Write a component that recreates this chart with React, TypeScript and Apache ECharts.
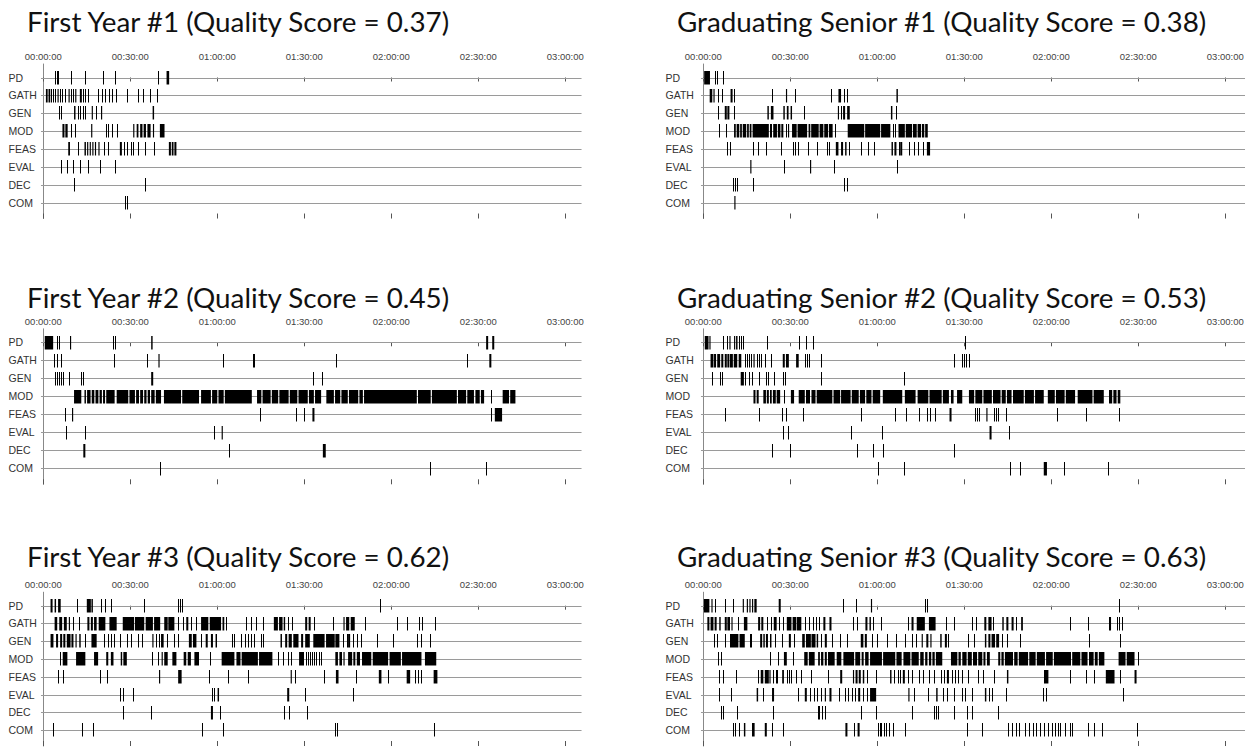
import React, { useEffect, useRef } from "react";
import * as echarts from "echarts";

// Activity codes, top to bottom
const ROWS = ["PD", "GATH", "GEN", "MOD", "FEAS", "EVAL", "DEC", "COM"];
// Time axis ticks, in minutes
const TICK_MINUTES = [0, 30, 60, 90, 120, 150, 180];

const PANEL_NAMES = [
  "First Year #1",
  "Graduating Senior #1",
  "First Year #2",
  "Graduating Senior #2",
  "First Year #3",
  "Graduating Senior #3",
];
const QUALITY_SCORES = [0.37, 0.38, 0.45, 0.53, 0.62, 0.63];

// An event is either a brief moment (minute) or an interval [start, end] in minutes.
type Ev = number | [number, number];

const FIRST_YEAR_1: Ev[][] = [
  [4.1, 4.6, 5.1, 9.6, 14.4, 20.7, 24.7, 39.5, [42.5, 43.4]],
  [[0.9, 1.5], [1.8, 2.4], [2.7, 3.0], 3.5, 4.1, [4.9, 5.3], 5.9, 6.6, 7.5, [8.7, 9.1], 9.6, 10.3, [11.0, 11.4], [12.6, 13.3], [13.7, 13.9], 14.4, 15.5, [18.7, 19.0], 20.1, 21.3, 22.6, 23.8, 25.0, [28.7, 29.0], 32.5, 34.5, 36.9, 39.3],
  [5.3, 6.1, [10.6, 11.1], 11.8, 12.7, 13.6, 14.4, [16.7, 17.1], 18.1, [19.9, 20.3], [37.7, 38.2]],
  [[6.6, 7.3], [7.6, 8.4], 9.6, [11.0, 11.3], [16.5, 16.9], 21.7, 22.3, 23.8, 25.3, [31.0, 31.4], [32.2, 32.8], [33.4, 34.2], [34.6, 35.4], [35.9, 37.0], [37.8, 38.2], [40.2, 41.8]],
  [[8.6, 9.2], 11.9, [14.2, 14.7], [15.1, 15.5], [16.0, 16.4], [16.9, 17.3], [17.8, 18.2], [19.0, 19.4], 20.8, 22.4, [26.4, 27.1], 28.0, 29.0, 30.2, 31.1, 32.7, 35.0, 38.2, [43.3, 44.0], [44.3, 44.9], [45.2, 45.9]],
  [6.2, 8.2, 10.3, 12.8, 15.5, 19.7, [24.7, 25.0]],
  [10.5, 35.0],
  [28.1, 29.0],
];

const SENIOR_1: Ev[][] = [
  [[0.3, 2.3], 4.2, 4.7, 6.8],
  [[2.2, 3.1], [3.5, 3.9], 5.2, 6.3, [9.4, 10.1], 10.6, 23.7, [28.5, 28.9], 31.5, 43.9, [46.6, 47.5], 48.5, 49.6, [66.6, 67.1]],
  [5.2, [7.4, 8.1], [8.3, 9.0], 10.7, [22.1, 22.6], [23.3, 24.2], [27.6, 28.1], [28.8, 29.4], [30.1, 30.6], 34.7, [46.4, 46.8], 47.5, [48.2, 48.9], [49.6, 50.5], [64.7, 65.2], 66.3],
  [5.4, 7.9, [10.6, 11.2], [11.5, 12.4], [12.7, 13.3], [13.6, 14.8], [15.1, 15.7], [16.0, 16.6], [17.0, 22.6], [23.0, 23.7], [24.1, 25.4], [25.7, 26.6], [26.9, 27.6], [28.5, 28.8], [29.2, 29.6], [30.6, 32.2], [32.5, 35.8], [36.3, 36.9], [37.2, 39.8], [40.1, 41.4], [41.7, 43.0], [43.3, 44.6], 45.3, [49.8, 55.5], [55.8, 61.0], [61.3, 64.5], 65.4, [66.2, 66.5], [67.3, 69.5], [69.8, 72.0], [72.3, 73.6], [73.9, 75.1], [75.4, 76.2], [76.5, 77.4]],
  [8.1, 9.3, [17.3, 17.5], 18.9, 21.6, 26.7, [31.0, 31.3], 31.7, 32.6, 36.1, 39.3, 42.5, 43.4, [45.7, 46.6], [47.5, 48.2], [48.9, 49.4], 50.1, 54.4, 56.7, 59.0, [64.9, 65.4], [65.9, 66.6], 67.5, [67.9, 68.6], 70.9, 72.7, 74.1, 75.7, [77.1, 78.2]],
  [[16.2, 16.6], 27.8, [36.8, 37.2], 45.2, 66.8],
  [10.4, 11.0, 11.5, 17.2, 48.5, 49.4],
  [[10.7, 11.1]],
];

const FIRST_YEAR_2: Ev[][] = [
  [[0.5, 3.4], 4.6, 5.3, [9.2, 9.6], 24.1, 24.6, [37.2, 37.7], [152.7, 153.4], [154.8, 155.5]],
  [3.7, 4.8, 6.0, 24.3, 35.6, [39.7, 40.1], 62.0, [72.3, 73.0], 101.0, 146.0, [153.8, 154.5]],
  [4.1, 4.8, 5.5, 6.2, 6.9, 9.0, 12.9, 13.8, [37.2, 37.9], 93.0, 96.0],
  [[10.6, 13.1], [14.2, 14.7], [15.1, 16.3], [16.7, 17.6], [18.0, 19.0], [19.4, 20.2], [20.6, 21.3], [21.7, 24.6], [25.3, 29.3], [29.7, 31.6], [32.0, 33.0], [33.4, 34.4], [34.8, 35.6], [36.0, 36.8], [37.2, 38.4], [38.8, 40.6], [41.6, 47.5], [47.9, 53.7], [54.4, 57.8], [58.2, 60.0], [60.4, 62.2], [62.6, 71.9], [73.7, 75.2], [75.6, 78.4], [78.8, 81.0], [81.4, 84.6], [85.0, 87.6], [88.0, 91.2], [91.6, 93.3], [93.7, 95.8], [97.6, 100.2], [100.6, 102.4], [102.8, 105.0], [105.4, 108.6], [109.0, 110.2], [110.6, 128.8], [129.2, 133.6], [134.0, 142.6], [143.0, 145.8], [146.2, 148.5], [149.0, 150.5], [150.9, 152.0], 154.5, [158.4, 160.6], [161.0, 162.8]],
  [7.6, [9.9, 10.3], 74.6, 87.3, 90.0, [92.8, 93.5], 154.5, [155.7, 158.2]],
  [7.8, 14.5, [58.8, 59.1], [61.5, 61.9]],
  [[13.8, 14.5], 64.1, [96.4, 97.4]],
  [40.4, 133.4, 152.5],
];

const SENIOR_2: Ev[][] = [
  [[0.5, 1.8], [2.1, 2.5], 6.7, 8.3, [9.0, 9.4], [10.6, 11.0], [11.3, 11.8], 12.2, 13.1, 13.8, 21.9, 32.9, 35.4, 37.7, 90.2],
  [[2.5, 3.5], [3.7, 4.4], [4.8, 5.8], [6.2, 6.9], [7.4, 8.1], [8.3, 9.0], [9.2, 10.2], [10.5, 11.7], [12.2, 13.1], 14.3, 15.0, 15.9, 16.6, [17.3, 17.7], 18.4, 19.1, 20.0, 21.2, 23.5, [27.4, 28.1], [28.5, 29.5], [32.0, 32.9], 35.0, 35.7, 36.4, 40.5, 86.3, 89.3, 90.0, 90.7, 91.6],
  [3.0, 5.8, 6.4, [12.9, 14.0], 14.5, 15.6, 16.8, 19.3, 21.6, 22.3, 24.4, 27.6, 28.3, 40.5, 69.3],
  [[17.3, 18.0], [18.4, 19.1], [20.7, 21.6], [21.9, 22.6], [23.0, 23.6], [24.0, 25.0], [25.3, 26.5], 27.8, [30.2, 31.3], [32.9, 35.0], [35.4, 36.8], [37.3, 38.7], [39.1, 44.5], [44.9, 47.2], [47.5, 50.8], [51.2, 53.6], [54.0, 55.8], [56.2, 58.0], [58.4, 61.0], [61.9, 68.6], [69.5, 73.2], [73.9, 77.6], [78.0, 82.2], [82.6, 84.7], [85.4, 86.3], [87.5, 89.3], [91.6, 93.4], [93.8, 96.2], [96.6, 99.5], [99.9, 102.5], [102.9, 104.3], [104.7, 106.3], [106.8, 110.5], [110.9, 114.0], [114.4, 117.4], [118.8, 121.2], [121.6, 124.6], [125.0, 128.2], [129.1, 134.2], [134.6, 138.1], [139.9, 141.0], [141.4, 142.5], [142.9, 143.8]],
  [7.4, 19.3, 27.2, 28.5, 34.5, 54.3, 66.1, 70.0, 74.3, 77.3, 78.3, 79.9, [84.9, 85.6], 93.7, 94.4, 95.1, [97.6, 98.0], 100.1, 100.8, 101.5, 104.3, 122.0, 132.1, 143.2],
  [27.4, 29.2, 50.9, 61.7, [98.7, 99.4], 105.4],
  [23.7, 29.9, 52.9, 58.5, 62.1, 86.5],
  [60.1, 69.3, 105.6, 109.1, [117.4, 118.5], 124.5, 139.7],
];

const FIRST_YEAR_3: Ev[][] = [
  [[2.5, 3.2], [3.9, 4.4], [5.1, 6.0], 11.5, [15.0, 16.4], [16.6, 17.1], 19.8, 21.2, 23.5, 34.6, 46.5, 47.2, 47.9, 116.0],
  [[3.9, 4.8], [5.5, 6.5], [7.1, 8.1], [8.8, 9.2], 10.4, 12.4, [15.2, 15.9], [16.4, 17.1], [17.5, 18.4], [19.1, 21.4], [22.8, 25.3], [27.4, 31.3], [31.6, 34.8], [35.3, 37.8], [38.2, 40.3], [41.7, 42.9], [43.1, 45.2], 46.5, 48.2, [49.3, 50.0], 50.9, 52.5, [54.4, 56.9], [57.4, 61.3], [61.8, 62.4], 63.1, 69.8, 71.7, 73.3, 75.8, [79.5, 80.9], [81.3, 82.5], [82.9, 83.4], 84.3, 85.9, [90.3, 91.0], [91.5, 92.2], 93.3, 100.0, [103.5, 103.9], [104.4, 105.5], [106.0, 107.4], 111.1, 121.9, 125.3, 129.5, 130.6, 135.0],
  [[2.5, 3.5], [4.4, 5.1], [5.8, 6.5], [6.9, 7.6], [8.1, 9.4], [9.7, 10.4], [11.1, 11.5], [12.4, 12.9], [14.3, 14.5], [16.6, 18.4], 21.0, 22.4, 23.5, 24.4, 26.3, 29.0, 30.4, 32.5, 33.9, [37.6, 38.0], 38.7, 39.9, [40.6, 41.5], 42.6, 45.2, 46.3, [50.2, 51.2], [51.6, 52.8], 54.4, [56.0, 56.7], [57.8, 58.5], [59.4, 59.9], 65.0, 65.9, 68.2, 69.4, 70.5, 71.7, 72.8, 75.1, 75.6, [81.8, 82.3], [83.4, 84.1], [84.6, 85.7], [86.2, 88.0], [88.9, 89.6], [90.3, 91.9], [93.1, 97.0], [97.5, 100.5], [100.7, 102.1], 103.2, 104.6, [105.1, 105.8], 106.9, 108.1, 109.7, 115.2, 120.5, 128.8, 130.4, 133.2],
  [5.8, [6.7, 8.3], [11.3, 14.5], [17.5, 18.9], [21.7, 22.4], [23.3, 24.2], [26.7, 27.2], [27.6, 28.8], 37.6, 39.4, [40.8, 41.2], [41.7, 42.9], [44.5, 45.9], [48.4, 49.3], [49.8, 50.9], [52.1, 53.7], 57.6, [61.5, 65.9], [66.6, 68.0], [68.4, 74.0], [74.4, 79.0], 81.1, 82.5, 84.3, 85.5, [88.2, 89.9], 90.6, 91.2, 91.9, 92.6, 93.3, 94.2, 94.9, 95.6, [100.7, 101.6], [102.1, 103.0], [103.5, 103.9], [105.1, 106.5], [106.9, 107.6], [108.1, 109.2], [109.9, 113.1], [113.6, 118.9], [119.4, 123.3], [123.7, 130.4], [131.6, 135.5]],
  [5.1, 6.9, 19.4, 21.9, [39.9, 40.3], [46.5, 47.7], 57.1, 63.8, 70.7, [85.3, 85.7], 86.9, 96.8, [100.9, 101.8], 107.8, [115.7, 116.6], 118.9, [125.3, 126.5], 128.1, 129.3, 130.4, [134.6, 135.9]],
  [26.5, 27.6, 30.9, 58.3, 59.0, [60.1, 60.6], [84.1, 84.8], 90.3, 106.9],
  [27.6, 37.1, [57.8, 58.5], 61.1, 82.9, 84.6, 90.8],
  [3.5, [13.4, 13.6], 17.3, 54.8, 61.8, 100.7, 101.4, 134.6],
];

const SENIOR_3: Ev[][] = [
  [[0.2, 2.1], [2.8, 3.2], [3.9, 4.1], 7.4, 10.4, [13.6, 14.0], [15.0, 15.4], [15.9, 16.3], [16.8, 17.2], [17.6, 18.4], [26.0, 26.7], 48.3, 52.5, [57.8, 58.2], 76.4, 77.1, 143.2],
  [[1.4, 2.1], [2.5, 3.5], [3.9, 4.6], [5.5, 6.0], [7.4, 8.1], [8.3, 9.2], [9.7, 10.1], 12.0, [14.0, 15.2], [18.9, 19.6], [20.0, 20.7], 22.1, 23.2, [24.3, 25.3], 26.0, 27.4, [28.8, 30.4], [30.8, 32.0], [32.2, 33.8], 35.2, 36.4, 37.7, 38.7, 39.8, [41.4, 42.1], [43.5, 44.2], 51.6, 52.9, [55.9, 56.6], [57.3, 57.8], 58.5, 61.4, 70.7, [71.8, 72.5], [73.6, 76.4], [77.8, 80.1], 83.8, 86.3, 92.8, 93.9, [96.9, 97.6], [98.3, 99.4], 99.9, [103.1, 103.6], [104.5, 105.2], [106.3, 107.0], 107.7, [109.6, 110.2], 126.6, 132.8, [139.9, 140.6], 142.5, 143.4, 144.5],
  [3.7, 4.6, 7.4, [9.2, 12.1], [12.5, 14.3], [16.1, 16.8], [19.6, 20.3], [20.7, 21.2], [21.6, 22.3], [23.0, 23.5], 24.6, 27.2, [29.5, 30.2], 31.3, [34.1, 35.0], [35.4, 37.1], [37.3, 38.7], [39.1, 39.6], 40.7, [41.9, 42.6], 44.4, 47.2, 49.5, [54.3, 55.2], [55.7, 56.4], 58.0, 59.8, 63.3, 66.3, 69.5, 71.8, 73.2, [75.3, 75.7], [76.9, 77.6], [78.3, 78.7], [81.7, 82.2], [83.3, 84.0], 84.5, 91.4, 93.2, [97.1, 97.6], [98.3, 99.0], [99.4, 100.6], [101.0, 102.0], 103.1, 104.7, 109.3, 133.0, 143.6],
  [5.1, 6.0, 23.0, 25.8, [27.8, 28.8], 31.1, [34.8, 36.0], [36.4, 38.4], [39.6, 40.2], [40.6, 41.4], [41.9, 42.6], [43.0, 45.3], [46.0, 47.6], [48.3, 52.0], [52.4, 54.1], [54.6, 55.3], [55.8, 57.0], [57.5, 61.6], [62.0, 66.2], [66.6, 68.4], [69.0, 71.4], [71.8, 74.3], [74.8, 76.0], [76.5, 77.3], [77.8, 78.6], [79.0, 79.8], [80.2, 82.4], [85.4, 87.6], [88.0, 88.8], [89.3, 90.8], [91.2, 92.6], [93.0, 94.4], [94.8, 96.2], [96.6, 97.3], [97.8, 98.8], [101.7, 102.4], [102.8, 103.6], [104.0, 106.8], [107.2, 108.4], [108.8, 112.0], [112.4, 114.6], [115.0, 117.8], [118.2, 120.5], [120.9, 126.8], [127.2, 130.0], [130.4, 132.5], [133.0, 134.6], [135.0, 136.0], [136.4, 138.3], [143.2, 145.6], [146.0, 148.7], 149.8],
  [5.3, 6.7, 11.3, 18.9, [19.8, 20.7], [21.2, 22.6], [22.8, 23.2], 24.2, 24.9, 25.3, [27.2, 27.8], 28.8, 29.5, 30.4, 31.8, 33.6, 37.1, 43.0, [47.2, 47.9], [51.6, 52.0], [52.5, 53.2], [53.6, 54.3], [55.0, 55.5], 56.6, 59.6, [64.4, 64.9], 65.8, 67.0, 67.9, [68.8, 69.5], 70.7, 72.0, 74.3, 75.9, 77.8, 79.6, 81.9, 82.9, [84.0, 84.7], 85.6, 86.8, 87.9, 89.1, 91.4, 94.6, 96.4, 100.1, [104.7, 105.2], 117.4, [117.8, 119.0], 126.4, 131.9, 134.6, [138.8, 141.8], 143.8, [148.7, 149.4]],
  [5.3, 9.4, [18.4, 18.9], 20.7, [23.7, 24.4], 32.5, [35.0, 35.7], 36.8, 38.0, 39.1, 40.7, [41.9, 42.3], [43.5, 44.2], 46.7, 48.8, 49.9, 51.3, 52.2, [53.4, 54.1], 55.2, 56.6, [57.5, 59.6], [70.7, 71.1], 72.5, 77.6, [80.3, 80.8], 82.6, 84.2, 86.3, 89.1, 90.4, 92.5, [97.1, 97.6], 98.5, 99.7, 104.5, 117.1, 118.3, 144.8],
  [6.2, 6.9, 11.7, 23.9, 39.4, 40.0, 40.9, 42.1, 54.5, 59.4, 72.0, 79.6, 80.1, 80.8, 86.3, 91.1, 92.5, 101.7],
  [10.1, 10.8, 12.2, [14.0, 14.5], [16.8, 17.7], [21.2, 21.9], 23.7, 27.6, [49.0, 49.7], 52.0, [53.2, 53.9], 60.1, 60.8, 61.4, 62.4, 63.1, 64.0, 65.4, 69.7, 90.9, 96.2, 105.2, 106.3, 107.7, 108.9, 111.0, 112.3, 113.7, 114.6, 116.0, 117.6, 118.8, 120.1, 121.3, 122.2, 123.1, 124.7, 126.4, 127.1, 132.8, 134.6, 137.4, 149.6],
];

const PANELS = [FIRST_YEAR_1, SENIOR_1, FIRST_YEAR_2, SENIOR_2, FIRST_YEAR_3, SENIOR_3];

// Page layout (pixels)
const COL_X0 = [43.3, 703.3]; // x of 00:00:00 in each column
const COL_XMAX = [185.6, 186.8]; // minutes where the row lines stop
const X_MIN = -0.8;
const PX_PER_MIN = 2.9;
const ROW_Y0 = [77.5, 342.3, 605.7]; // y of the PD line in each band
const ROW_GAP = [17.86, 18.0, 17.76];
const TITLE_X = [27, 677];
const TITLE_Y = [21.7, 297, 556];
const LABEL_X = [8.5, 665.5];
const BAR_H = 13.5;
const TOP_PAD = 13.5;
const BOTTOM_PAD = 16;

const LABEL_FONT = "'Liberation Sans Narrow', 'Liberation Sans', Arial, sans-serif";

function fmtTime(v: number) {
  const h = Math.floor(v / 60);
  const m = Math.round(v % 60);
  const p = (n: number) => String(n).padStart(2, "0");
  return `${p(h)}:${p(m)}:00`;
}

function buildOption() {
  const grid: any[] = [];
  const xAxis: any[] = [];
  const yAxis: any[] = [];
  const series: any[] = [];
  const graphic: any[] = [];

  PANELS.forEach((rows, i) => {
    const col = i % 2;
    const band = Math.floor(i / 2);
    const gap = ROW_GAP[band];
    const x0 = COL_X0[col];
    const xMax = COL_XMAX[col];
    const left = x0 + X_MIN * PX_PER_MIN;
    const width = (xMax - X_MIN) * PX_PER_MIN;
    const top = ROW_Y0[band] - TOP_PAD;
    const height = 7 * gap + TOP_PAD + BOTTOM_PAD;
    const yMin = -TOP_PAD / gap;
    const yMax = 7 + BOTTOM_PAD / gap;

    grid.push({ left, top, width, height, containLabel: false, outerBoundsMode: "none" });

    const tickCommon = {
      show: true,
      inside: true,
      customValues: TICK_MINUTES,
      lineStyle: { color: "#555", width: 1 },
    };
    xAxis.push({
      type: "value",
      gridIndex: i,
      position: "top",
      min: X_MIN,
      max: xMax,
      axisLine: { show: false },
      splitLine: { show: false },
      axisTick: { ...tickCommon, length: 4 },
      axisLabel: {
        show: true,
        customValues: TICK_MINUTES,
        formatter: (v: number) => fmtTime(v),
        fontFamily: LABEL_FONT,
        fontSize: 9.5,
        color: "#444",
        margin: 2.5,
      },
    });
    xAxis.push({
      type: "value",
      gridIndex: i,
      position: "bottom",
      min: X_MIN,
      max: xMax,
      axisLine: { show: false },
      splitLine: { show: false },
      axisTick: { ...tickCommon, length: 5 },
      axisLabel: { show: false },
    });
    yAxis.push({
      type: "value",
      gridIndex: i,
      inverse: true,
      min: yMin,
      max: yMax,
      axisLine: { show: true, lineStyle: { color: "#888", width: 1 } },
      axisTick: { show: false },
      splitLine: { show: false },
      axisLabel: {
        show: true,
        customValues: ROWS.map((_, r) => r),
        formatter: (v: number) => ROWS[Math.round(v)] ?? "",
        align: "left",
        margin: left - LABEL_X[col],
        fontFamily: LABEL_FONT,
        fontSize: 10.5,
        color: "#333",
      },
    });

    // horizontal row lines
    series.push({
      type: "custom",
      xAxisIndex: 2 * i,
      yAxisIndex: i,
      silent: true,
      z: 1,
      data: ROWS.map((_, r) => [r]),
      renderItem: (params: any, api: any) => {
        const y = Math.round(api.coord([0, api.value(0)])[1]) + 0.5;
        const cs = params.coordSys;
        return {
          type: "line",
          shape: { x1: cs.x, y1: y, x2: cs.x + cs.width, y2: y },
          style: { stroke: "#9a9a9a", lineWidth: 1 },
        };
      },
    });

    // activity events
    const data: number[][] = [];
    rows.forEach((evs, r) => {
      evs.forEach((ev) => {
        if (Array.isArray(ev)) data.push([ev[0], ev[1], r]);
        else data.push([ev, ev, r]);
      });
    });
    series.push({
      type: "custom",
      xAxisIndex: 2 * i,
      yAxisIndex: i,
      silent: true,
      z: 2,
      encode: { x: [0, 1], y: 2 },
      data,
      renderItem: (_params: any, api: any) => {
        const a = api.coord([api.value(0), api.value(2)]);
        const b = api.coord([api.value(1), api.value(2)]);
        let x = a[0];
        let w = b[0] - a[0];
        if (w < 1) {
          x = Math.round(x);
          w = 1;
        }
        return {
          type: "rect",
          shape: { x, y: Math.round(a[1] - BAR_H / 2), width: w, height: BAR_H },
          style: { fill: "#000" },
        };
      },
    });

    graphic.push({
      type: "text",
      x: TITLE_X[col],
      y: TITLE_Y[band],
      style: {
        text: `${PANEL_NAMES[i]} (Quality Score = ${QUALITY_SCORES[i].toFixed(2)})`,
        fontFamily: "Lato, 'Open Sans', sans-serif",
        fontSize: 27.8,
        fill: "#111",
        verticalAlign: "middle",
        textVerticalAlign: "middle",
      },
    });
  });

  return {
    animation: false,
    backgroundColor: "#ffffff",
    grid,
    xAxis,
    yAxis,
    series,
    graphic,
  };
}

export default function App() {
  const ref = useRef<HTMLDivElement>(null);
  useEffect(() => {
    if (!ref.current) return;
    const chart = echarts.init(ref.current, undefined, { renderer: "svg" });
    chart.setOption(buildOption() as any);
    return () => chart.dispose();
  }, []);
  return (
    <div
      ref={ref}
      style={{ position: "fixed", left: 0, top: 0, width: 1246, height: 749, background: "#fff" }}
    />
  );
}
